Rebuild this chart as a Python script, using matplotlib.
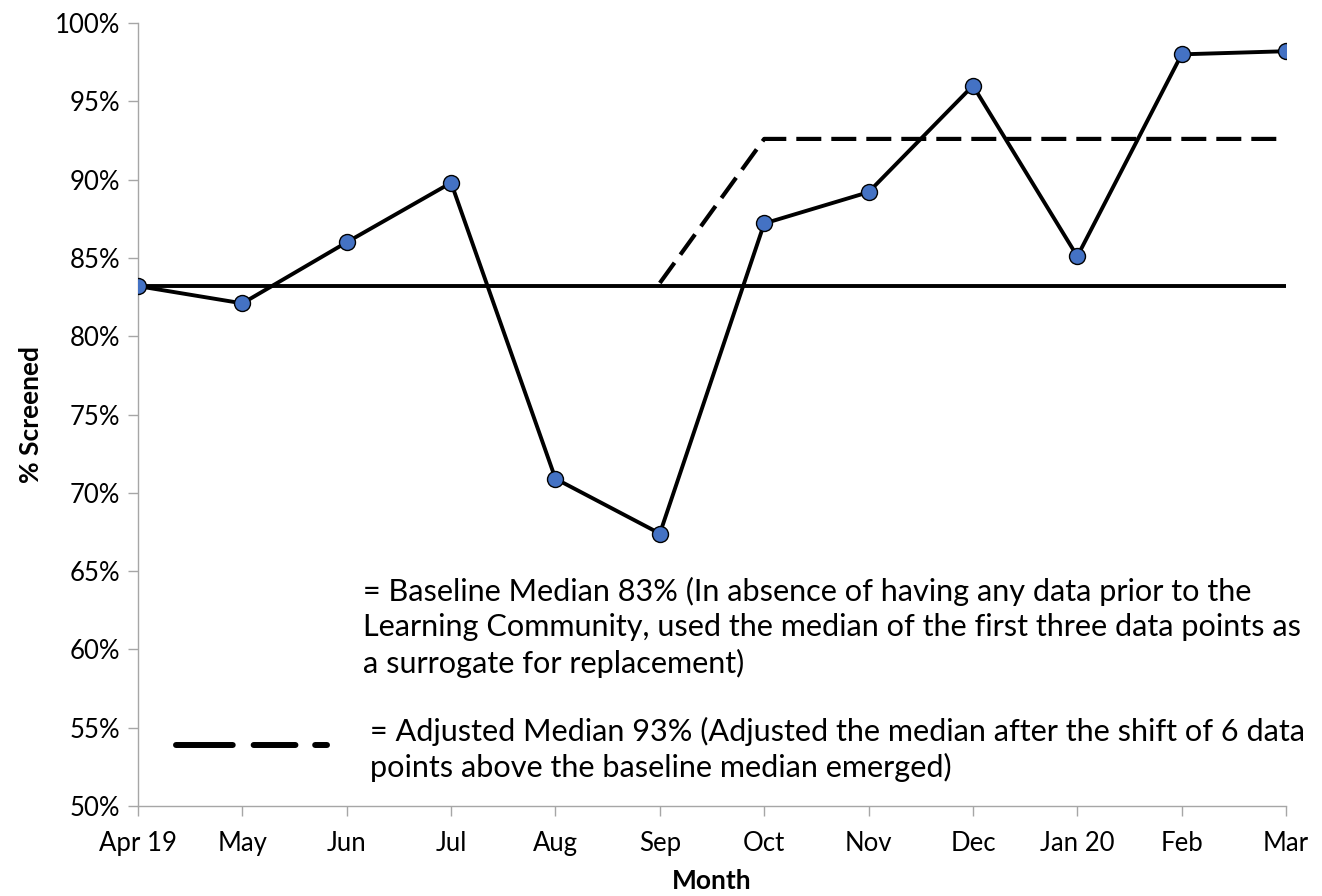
import numpy as np
import matplotlib
matplotlib.use('Agg')
import matplotlib.pyplot as plt
from matplotlib.ticker import FuncFormatter

plt.rcParams['font.family'] = ['Lato', 'DejaVu Sans']

# data
months = ['Apr 19', 'May', 'Jun', 'Jul', 'Aug', 'Sep', 'Oct', 'Nov', 'Dec', 'Jan 20', 'Feb', 'Mar']
screened = [83.2, 82.1, 86.0, 89.8, 70.9, 67.4, 87.2, 89.2, 96.0, 85.1, 98.0, 98.2]
baseline_median = 83.2
adj_months = ['Sep', 'Oct', 'Mar']
adj_values = [83.4, 92.6, 92.6]
legend_y = 53.9

x = np.arange(len(months))
adj_x = [months.index(m) for m in adj_months]

fig = plt.figure(figsize=(13.22, 8.96), dpi=100)
ax = fig.add_axes([0.1044, 0.1004, 0.8684, 0.8739])

ax.plot([x[0], x[-1]], [baseline_median, baseline_median], color='black', lw=2.8, zorder=2)
ax.plot(adj_x, adj_values, color='black', lw=3.0, dashes=(6, 2.4), zorder=2)
ax.plot(x, screened, color='black', lw=2.8, marker='o', markersize=11.5,
        markerfacecolor='#4472C4', markeredgecolor='black', markeredgewidth=1.0, zorder=3)

# legend-like annotation
ax.plot([0.36, 1.81], [legend_y, legend_y], color='black', lw=4.3,
        dashes=(9.5, 3.5, 7, 3.3, 2.5, 10), dash_capstyle='round')
ax.text(2.156, 61.4,
        '= Baseline Median 83% (In absence of having any data prior to the\n'
        'Learning Community, used the median of the first three data points as\n'
        'a surrogate for replacement)',
        fontsize=22.1, va='center', ha='left', linespacing=1.3)
ax.text(2.22, 53.6,
        '= Adjusted Median 93% (Adjusted the median after the shift of 6 data\n'
        'points above the baseline median emerged)',
        fontsize=22.1, va='center', ha='left', linespacing=1.3)

ax.set_xlim(0, 11)
ax.set_ylim(50, 100)
ax.set_xticks(x)
ax.set_xticklabels(months)
ax.set_yticks(np.arange(50, 101, 5))
ax.yaxis.set_major_formatter(FuncFormatter(lambda v, p: '%d%%' % v))

for s in ['top', 'right']:
    ax.spines[s].set_visible(False)
for s in ['left', 'bottom']:
    ax.spines[s].set_color('#a6a6a6')
    ax.spines[s].set_linewidth(1.0)
ax.tick_params(axis='both', colors='#a6a6a6', labelcolor='black', labelsize=18.5, length=7, width=1.0)
ax.tick_params(axis='x', pad=11)
ax.tick_params(axis='y', pad=6)

ax.set_xlabel('Month', fontsize=19, fontweight='bold', labelpad=9)
ax.set_ylabel('% Screened', fontsize=19, fontweight='bold', labelpad=8)

fig.savefig('out.png', dpi=100)
